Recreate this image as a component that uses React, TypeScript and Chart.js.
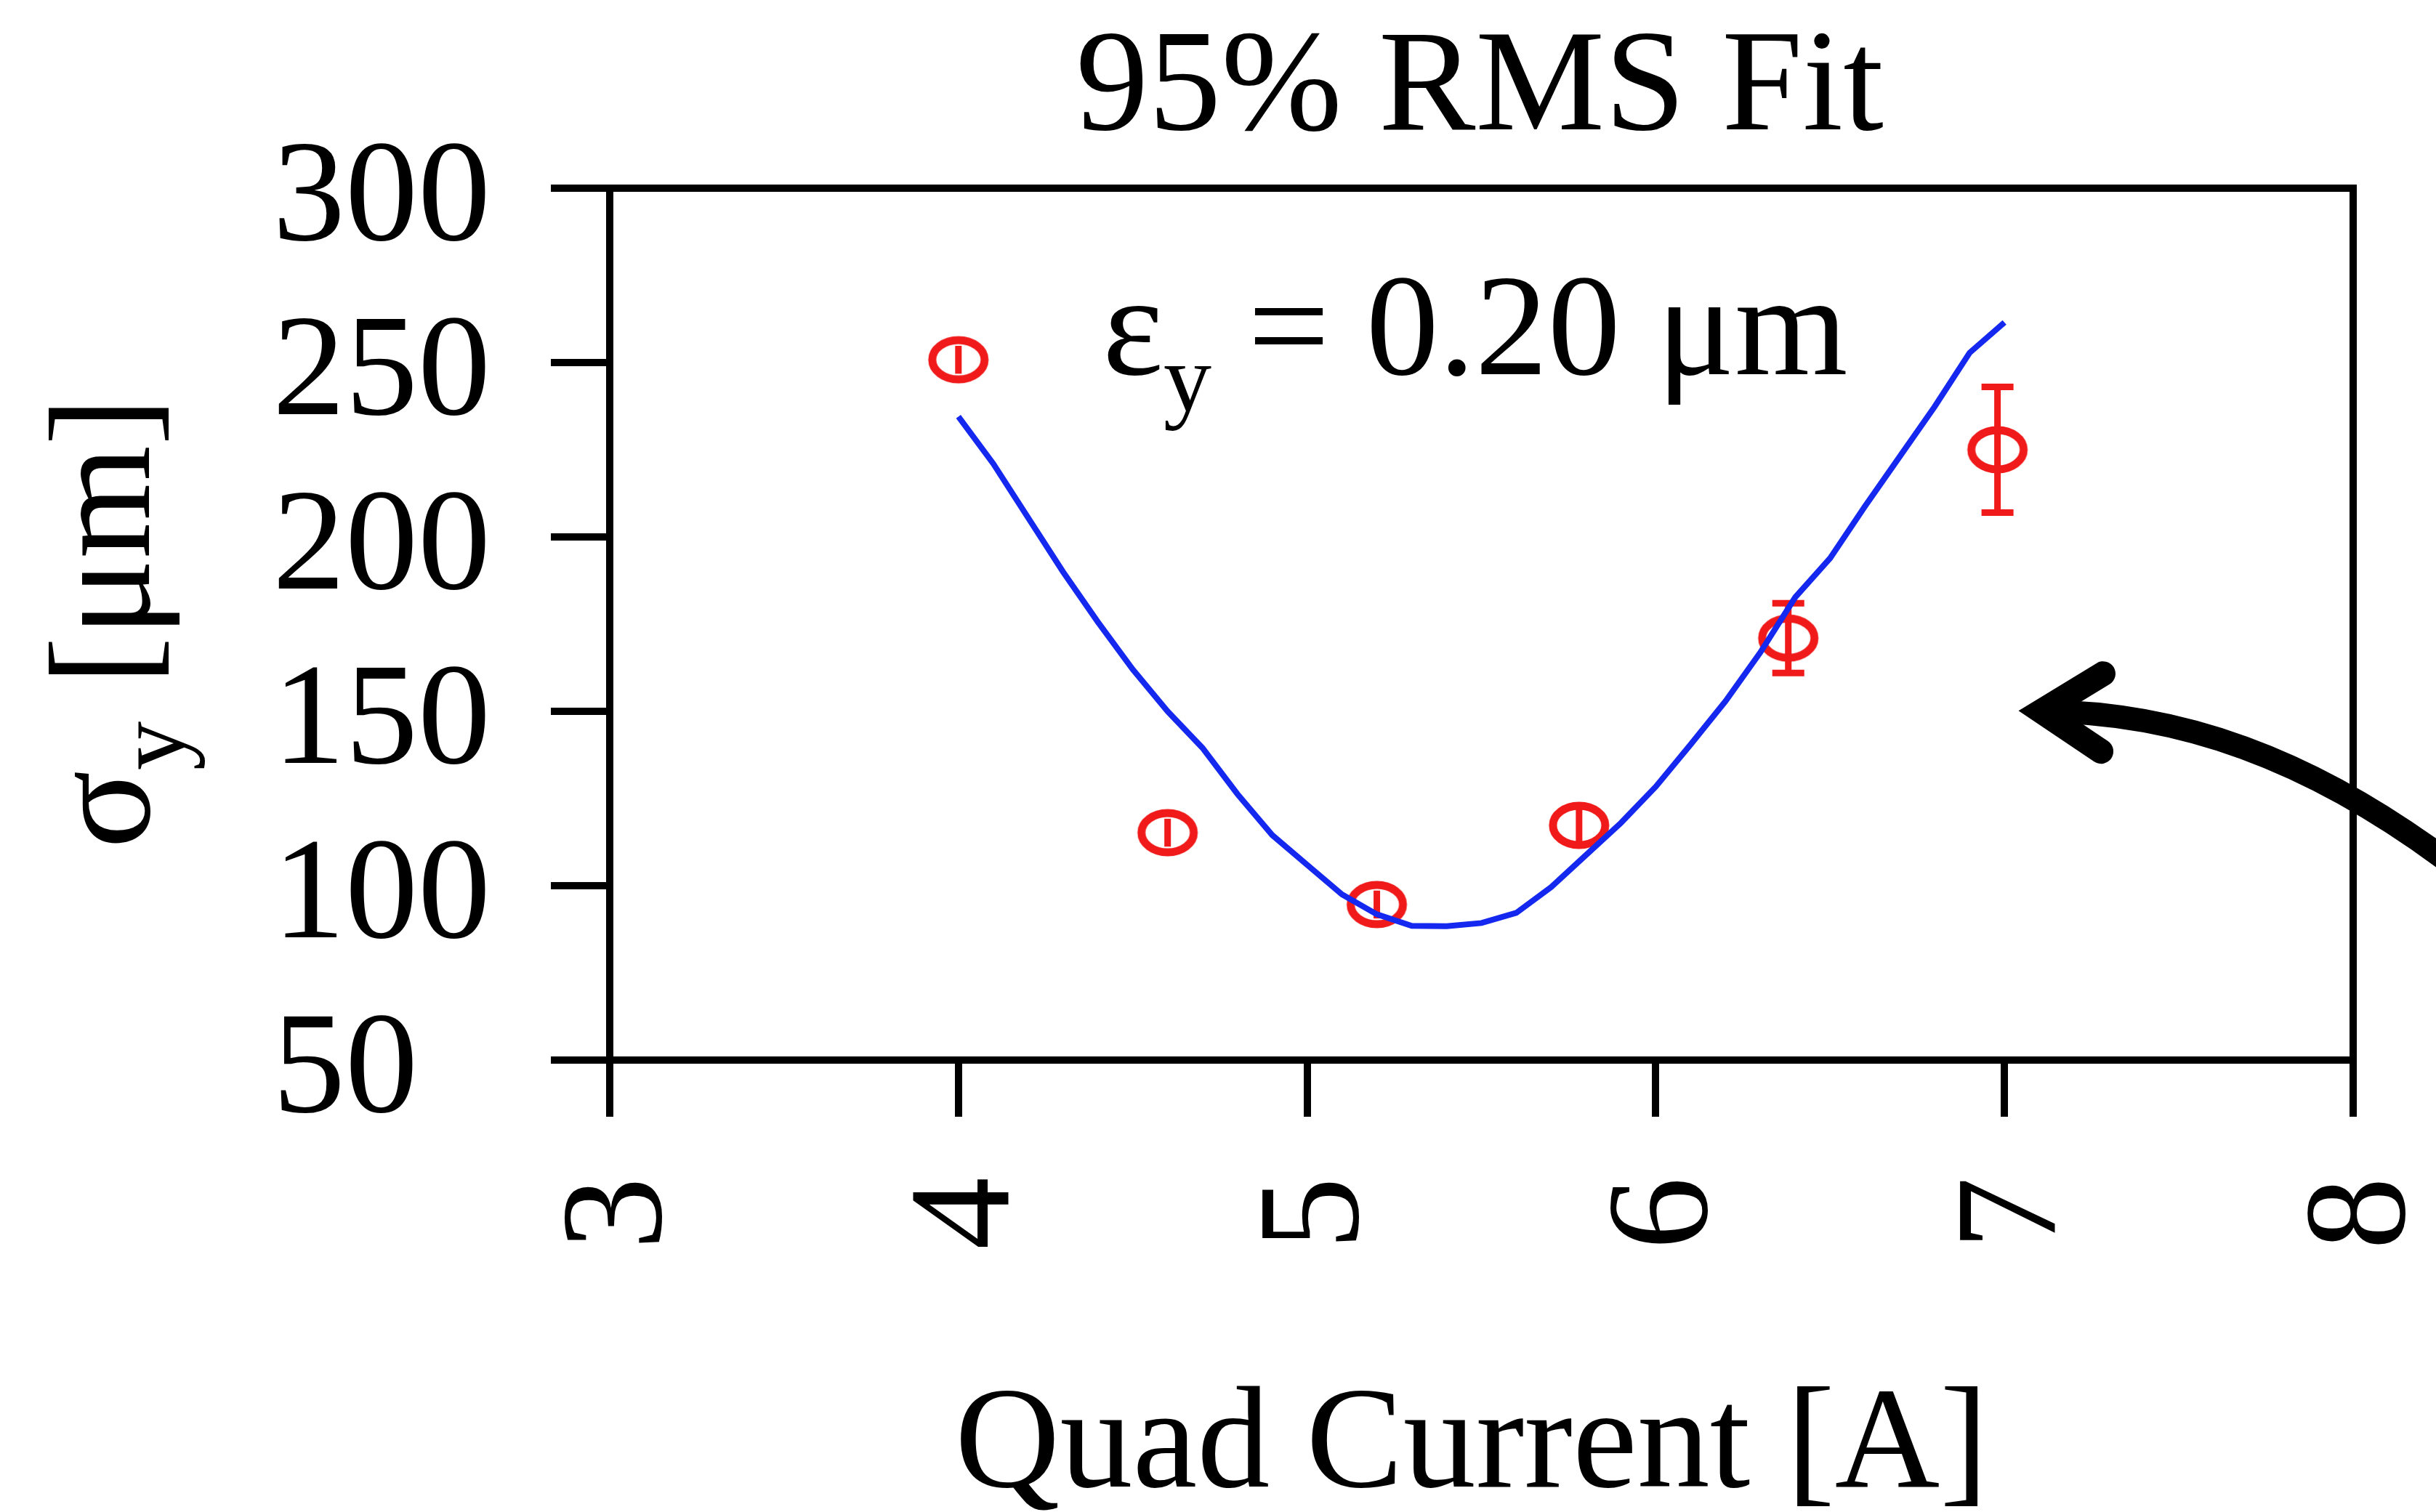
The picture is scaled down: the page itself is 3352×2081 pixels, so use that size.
import React, { useEffect, useRef } from 'react';
import { Chart, registerables } from 'chart.js';

Chart.register(...registerables);

const FONT = "'Liberation Serif', 'Times New Roman', Times, serif";
const RED = '#f01a1a';
const BLUE = '#1428f0';

// Axis ticks
const xTicks = [3, 4, 5, 6, 7, 8];
const yTicks = [50, 100, 150, 200, 250, 300];

// Measured beam sizes (quad current [A], sigma_y [um], error [um])
const measX = [4.0, 4.6, 5.2, 5.78, 6.38, 6.98];
const measY = [250.8, 115.2, 94.6, 117.3, 171.0, 225.0];
const measErr = [4, 4, 4, 6, 10, 18];

// Fit curve
const fitX = [4.0, 4.1, 4.2, 4.3, 4.4, 4.5, 4.6, 4.7, 4.8, 4.9, 5.0, 5.1, 5.2, 5.3, 5.4, 5.5, 5.6, 5.7, 5.8, 5.9, 6.0, 6.1, 6.2, 6.3, 6.4, 6.5, 6.6, 6.7, 6.8, 6.9, 7.0];
const fitY = [234.5, 221, 205.5, 190, 175.6, 162, 150, 139.5, 126.3, 114.5, 106, 97.5, 91.8, 88.5, 88.4, 89.3, 92.2, 99.6, 108.8, 118, 128.4, 140.5, 152.9, 166.9, 182.7, 193.9, 208.8, 223.1, 237.4, 252.8, 261.5];

// Texts
const titleText = '95% RMS Fit';
const xTitleText = 'Quad Current [A]';
const yTitleParts = ['σ', 'y', ' [μm]'];
const annParts = ['ε', 'y', ' = 0.20 μm'];

// Arrow annotation (data coordinates)
const arrowHead = [
  [7.283, 160.8],
  [7.106, 150.0],
  [7.277, 138.5],
];
const arrowShaft = [
  [7.106, 150.0],
  [7.46, 149.8],
  [7.877, 139.4],
  [8.377, 98.75],
];

function makeMarker(): HTMLCanvasElement {
  const c = document.createElement('canvas');
  const rx = 36, ry = 27, lw = 11;
  c.width = Math.ceil(2 * (rx + lw));
  c.height = Math.ceil(2 * (ry + lw));
  const g = c.getContext('2d')!;
  g.strokeStyle = RED;
  g.lineWidth = lw;
  g.beginPath();
  g.ellipse(c.width / 2, c.height / 2, rx, ry, 0, 0, Math.PI * 2);
  g.stroke();
  return c;
}

function drawParts(ctx: CanvasRenderingContext2D, parts: string[], x: number, y: number, big: number, small: number, dy: number) {
  let cx = x;
  parts.forEach((t, i) => {
    const sub = i === 1;
    ctx.font = `${sub ? small : big}px ${FONT}`;
    ctx.fillText(t, cx, y + (sub ? dy : 0));
    cx += ctx.measureText(t).width;
  });
}

const decor = {
  id: 'decor',
  beforeDatasetsDraw(chart: any) {
    const { ctx, scales } = chart;
    const xs = scales.x, ys = scales.y;
    ctx.save();
    ctx.strokeStyle = RED;
    ctx.lineWidth = 9;
    measX.forEach((v, i) => {
      const px = xs.getPixelForValue(v);
      const top = ys.getPixelForValue(measY[i] + measErr[i]);
      const bot = ys.getPixelForValue(measY[i] - measErr[i]);
      ctx.beginPath();
      ctx.moveTo(px, top);
      ctx.lineTo(px, bot);
      if (bot - top > 60) {
        ctx.moveTo(px - 22, top);
        ctx.lineTo(px + 22, top);
        ctx.moveTo(px - 22, bot);
        ctx.lineTo(px + 22, bot);
      }
      ctx.stroke();
    });
    ctx.restore();
  },
  afterDraw(chart: any) {
    const { ctx, chartArea, scales } = chart;
    const xs = scales.x, ys = scales.y;
    ctx.save();
    // frame top & right
    ctx.strokeStyle = '#000';
    ctx.lineWidth = 10;
    ctx.lineJoin = 'miter';
    ctx.beginPath();
    ctx.moveTo(chartArea.left, chartArea.top);
    ctx.lineTo(chartArea.right, chartArea.top);
    ctx.lineTo(chartArea.right, chartArea.bottom);
    ctx.stroke();

    ctx.fillStyle = '#000';
    ctx.textBaseline = 'alphabetic';
    // Title
    ctx.textAlign = 'center';
    ctx.font = `200px ${FONT}`;
    ctx.fillText(titleText, 2036, 178);
    // X title
    ctx.fillText(xTitleText, 2025, 2046);
    // Y title rotated
    ctx.textAlign = 'left';
    ctx.save();
    ctx.translate(205, 1168);
    ctx.rotate(-Math.PI / 2);
    drawParts(ctx, yTitleParts, 0, 0, 200, 135, 48);
    ctx.restore();
    // annotation
    drawParts(ctx, annParts, 1517, 515, 200, 132, 50);

    // Arrow
    const P = (p: number[]) => [xs.getPixelForValue(p[0]), ys.getPixelForValue(p[1])];
    const s = arrowShaft.map(P);
    ctx.lineWidth = 32;
    ctx.lineCap = 'butt';
    ctx.beginPath();
    ctx.moveTo(s[0][0], s[0][1]);
    ctx.bezierCurveTo(s[1][0], s[1][1], s[2][0], s[2][1], s[3][0], s[3][1]);
    ctx.stroke();
    const h = arrowHead.map(P);
    ctx.lineWidth = 34;
    ctx.lineCap = 'round';
    ctx.lineJoin = 'miter';
    ctx.miterLimit = 10;
    ctx.beginPath();
    ctx.moveTo(h[0][0], h[0][1]);
    ctx.lineTo(h[1][0], h[1][1]);
    ctx.lineTo(h[2][0], h[2][1]);
    ctx.stroke();
    ctx.restore();
  },
};

export default function App() {
  const ref = useRef<HTMLCanvasElement>(null);
  useEffect(() => {
    const canvas = ref.current!;
    const marker = makeMarker();
    const tickFont = { family: FONT, size: 200 };
    const chart = new Chart(canvas, {
      type: 'scatter',
      data: {
        datasets: [
          {
            label: 'fit',
            data: fitX.map((x, i) => ({ x, y: fitY[i] })),
            showLine: true,
            borderColor: BLUE,
            borderWidth: 8,
            pointRadius: 0,
            tension: 0,
            fill: false,
          },
          {
            label: 'data',
            data: measX.map((x, i) => ({ x, y: measY[i] })),
            showLine: false,
            pointStyle: marker,
            pointRadius: 36,
            borderColor: RED,
            backgroundColor: 'transparent',
          },
        ],
      },
      options: {
        responsive: false,
        animation: false,
        devicePixelRatio: 1,
        events: [],
        layout: { padding: { left: 375, top: 259, right: 114, bottom: 0 } },
        plugins: {
          legend: { display: false },
          tooltip: { enabled: false },
          title: { display: false },
        },
        scales: {
          x: {
            type: 'linear',
            position: 'bottom',
            min: 3,
            max: 8,
            afterBuildTicks: (s: any) => {
              s.ticks = xTicks.map((v) => ({ value: v }));
            },
            afterFit: (s: any) => {
              s.height = 622;
              s.paddingLeft = 0;
              s.paddingRight = 0;
            },
            ticks: {
              font: tickFont,
              color: '#000',
              minRotation: 90,
              maxRotation: 90,
              padding: 83,
              labelOffset: 17,
              autoSkip: false,
            },
            grid: { drawOnChartArea: false, drawTicks: true, tickLength: 78, lineWidth: 10, color: '#000' },
            border: { display: true, width: 10, color: '#000' },
          },
          y: {
            type: 'linear',
            position: 'left',
            min: 50,
            max: 300,
            afterBuildTicks: (s: any) => {
              s.ticks = yTicks.map((v) => ({ value: v }));
            },
            afterFit: (s: any) => {
              s.width = 464;
              s.paddingTop = 0;
              s.paddingBottom = 0;
            },
            ticks: {
              font: tickFont,
              color: '#000',
              crossAlign: 'far',
              labelOffset: 18,
              autoSkip: false,
            },
            grid: { drawOnChartArea: false, drawTicks: true, tickLength: 81, lineWidth: 10, color: '#000' },
            border: { display: true, width: 10, color: '#000' },
          },
        },
      },
      plugins: [decor],
    } as any);
    return () => chart.destroy();
  }, []);
  return (
    <div style={{ position: 'absolute', left: 0, top: 0, width: 3352, height: 2081, background: '#fff', overflow: 'hidden' }}>
      <canvas ref={ref} width={3352} height={2081} style={{ width: 3352, height: 2081, display: 'block' }} />
    </div>
  );
}
